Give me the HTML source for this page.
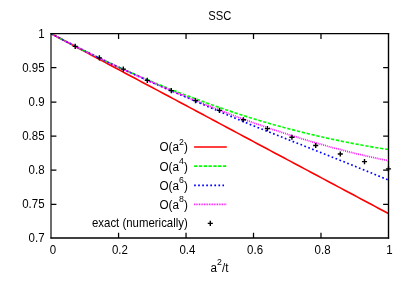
<!DOCTYPE html>
<html><head><meta charset="utf-8"><style>
html,body{margin:0;padding:0;background:#fff;}
svg{display:block;will-change:transform;transform:translateZ(0)}
text{font-family:"Liberation Sans",sans-serif;font-size:11.5px;fill:#000}
.sup{font-size:8.2px}
</style></head><body>
<svg width="409" height="286" viewBox="0 0 409 286">
<rect width="409" height="286" fill="#fff"/>
<defs><clipPath id="c"><rect x="51.1" y="33.6" width="340.34999999999997" height="204.4"/></clipPath></defs>

<path d="M51.10,33.60 L54.47,35.40 L57.85,37.20 L61.22,39.00 L64.59,40.79 L67.97,42.59 L71.34,44.39 L74.71,46.19 L78.09,47.99 L81.46,49.79 L84.84,51.59 L88.21,53.39 L91.58,55.18 L94.96,56.98 L98.33,58.78 L101.70,60.58 L105.08,62.38 L108.45,64.18 L111.82,65.98 L115.20,67.78 L118.57,69.57 L121.94,71.37 L125.32,73.17 L128.69,74.97 L132.06,76.77 L135.44,78.57 L138.81,80.37 L142.18,82.17 L145.56,83.96 L148.93,85.76 L152.30,87.56 L155.68,89.36 L159.05,91.16 L162.43,92.96 L165.80,94.76 L169.17,96.56 L172.55,98.35 L175.92,100.15 L179.29,101.95 L182.67,103.75 L186.04,105.55 L189.41,107.35 L192.79,109.15 L196.16,110.95 L199.53,112.75 L202.91,114.56 L206.28,116.36 L209.65,118.16 L213.03,119.97 L216.40,121.77 L219.77,123.58 L223.15,125.38 L226.52,127.19 L229.90,129.00 L233.27,130.80 L236.64,132.61 L240.02,134.41 L243.39,136.21 L246.76,138.02 L250.14,139.82 L253.51,141.62 L256.88,143.42 L260.26,145.22 L263.63,147.02 L267.00,148.82 L270.38,150.62 L273.75,152.42 L277.12,154.21 L280.50,156.01 L283.87,157.81 L287.25,159.61 L290.62,161.41 L293.99,163.21 L297.37,165.01 L300.74,166.81 L304.11,168.60 L307.49,170.40 L310.86,172.20 L314.23,174.00 L317.61,175.80 L320.98,177.60 L324.35,179.40 L327.73,181.20 L331.10,182.99 L334.47,184.79 L337.85,186.59 L341.22,188.39 L344.59,190.19 L347.97,191.99 L351.34,193.79 L354.71,195.58 L358.09,197.38 L361.46,199.18 L364.84,200.98 L368.21,202.78 L371.58,204.58 L374.96,206.38 L378.33,208.18 L381.70,209.97 L385.08,211.77 L388.45,213.57" fill="none" stroke="#ff0000" stroke-width="1.6" clip-path="url(#c)"/>
<path d="M51.10,33.60 L54.47,35.39 L57.85,37.17 L61.22,38.94 L64.59,40.69 L67.97,42.43 L71.34,44.16 L74.71,45.88 L78.09,47.58 L81.46,49.27 L84.84,50.94 L88.21,52.61 L91.58,54.26 L94.96,55.90 L98.33,57.52 L101.70,59.14 L105.08,60.73 L108.45,62.32 L111.82,63.90 L115.20,65.46 L118.57,67.00 L121.94,68.54 L125.32,70.06 L128.69,71.57 L132.06,73.07 L135.44,74.55 L138.81,76.02 L142.18,77.48 L145.56,78.93 L148.93,80.36 L152.30,81.78 L155.68,83.19 L159.05,84.58 L162.43,85.96 L165.80,87.33 L169.17,88.68 L172.55,90.03 L175.92,91.36 L179.29,92.67 L182.67,93.98 L186.04,95.27 L189.41,96.55 L192.79,97.82 L196.16,99.08 L199.53,100.34 L202.91,101.58 L206.28,102.81 L209.65,104.03 L213.03,105.24 L216.40,106.44 L219.77,107.62 L223.15,108.80 L226.52,109.96 L229.90,111.11 L233.27,112.24 L236.64,113.36 L240.02,114.47 L243.39,115.56 L246.76,116.63 L250.14,117.69 L253.51,118.74 L256.88,119.76 L260.26,120.77 L263.63,121.77 L267.00,122.75 L270.38,123.72 L273.75,124.68 L277.12,125.62 L280.50,126.55 L283.87,127.47 L287.25,128.38 L290.62,129.27 L293.99,130.15 L297.37,131.02 L300.74,131.87 L304.11,132.71 L307.49,133.54 L310.86,134.36 L314.23,135.16 L317.61,135.95 L320.98,136.73 L324.35,137.49 L327.73,138.24 L331.10,138.98 L334.47,139.71 L337.85,140.42 L341.22,141.12 L344.59,141.81 L347.97,142.48 L351.34,143.14 L354.71,143.79 L358.09,144.43 L361.46,145.05 L364.84,145.66 L368.21,146.26 L371.58,146.84 L374.96,147.41 L378.33,147.97 L381.70,148.52 L385.08,149.05 L388.45,149.57" fill="none" stroke="#00ff00" stroke-width="1.65" stroke-dasharray="3.3,1.7" clip-path="url(#c)"/>
<path d="M51.10,33.60 L54.47,35.39 L57.85,37.17 L61.22,38.94 L64.59,40.69 L67.97,42.44 L71.34,44.17 L74.71,45.89 L78.09,47.59 L81.46,49.29 L84.84,50.97 L88.21,52.65 L91.58,54.31 L94.96,55.96 L98.33,57.60 L101.70,59.24 L105.08,60.86 L108.45,62.47 L111.82,64.07 L115.20,65.66 L118.57,67.24 L121.94,68.82 L125.32,70.38 L128.69,71.94 L132.06,73.48 L135.44,75.02 L138.81,76.55 L142.18,78.07 L145.56,79.58 L148.93,81.09 L152.30,82.59 L155.68,84.08 L159.05,85.56 L162.43,87.04 L165.80,88.50 L169.17,89.97 L172.55,91.42 L175.92,92.87 L179.29,94.31 L182.67,95.75 L186.04,97.18 L189.41,98.61 L192.79,100.05 L196.16,101.49 L199.53,102.94 L202.91,104.38 L206.28,105.83 L209.65,107.28 L213.03,108.73 L216.40,110.18 L219.77,111.62 L223.15,113.07 L226.52,114.51 L229.90,115.94 L233.27,117.37 L236.64,118.79 L240.02,120.21 L243.39,121.62 L246.76,123.02 L250.14,124.40 L253.51,125.78 L256.88,127.15 L260.26,128.50 L263.63,129.85 L267.00,131.19 L270.38,132.54 L273.75,133.88 L277.12,135.22 L280.50,136.56 L283.87,137.90 L287.25,139.24 L290.62,140.58 L293.99,141.91 L297.37,143.25 L300.74,144.59 L304.11,145.93 L307.49,147.27 L310.86,148.61 L314.23,149.95 L317.61,151.30 L320.98,152.64 L324.35,153.99 L327.73,155.34 L331.10,156.68 L334.47,158.04 L337.85,159.39 L341.22,160.75 L344.59,162.10 L347.97,163.47 L351.34,164.83 L354.71,166.20 L358.09,167.57 L361.46,168.94 L364.84,170.32 L368.21,171.70 L371.58,173.09 L374.96,174.48 L378.33,175.87 L381.70,177.27 L385.08,178.67 L388.45,180.08" fill="none" stroke="#0000ff" stroke-width="1.65" stroke-dasharray="1.7,2.5" clip-path="url(#c)"/>
<path d="M51.10,33.60 L54.47,35.39 L57.85,37.17 L61.22,38.94 L64.59,40.69 L67.97,42.44 L71.34,44.17 L74.71,45.89 L78.09,47.59 L81.46,49.29 L84.84,50.97 L88.21,52.65 L91.58,54.31 L94.96,55.96 L98.33,57.60 L101.70,59.23 L105.08,60.84 L108.45,62.45 L111.82,64.05 L115.20,65.64 L118.57,67.21 L121.94,68.78 L125.32,70.34 L128.69,71.88 L132.06,73.42 L135.44,74.95 L138.81,76.46 L142.18,77.97 L145.56,79.47 L148.93,80.96 L152.30,82.43 L155.68,83.90 L159.05,85.36 L162.43,86.81 L165.80,88.25 L169.17,89.68 L172.55,91.11 L175.92,92.52 L179.29,93.92 L182.67,95.32 L186.04,96.70 L189.41,98.08 L192.79,99.45 L196.16,100.82 L199.53,102.18 L202.91,103.54 L206.28,104.89 L209.65,106.23 L213.03,107.56 L216.40,108.89 L219.77,110.21 L223.15,111.51 L226.52,112.81 L229.90,114.10 L233.27,115.38 L236.64,116.65 L240.02,117.90 L243.39,119.15 L246.76,120.38 L250.14,121.59 L253.51,122.80 L256.88,123.99 L260.26,125.16 L263.63,126.32 L267.00,127.48 L270.38,128.62 L273.75,129.75 L277.12,130.87 L280.50,131.97 L283.87,133.07 L287.25,134.16 L290.62,135.23 L293.99,136.29 L297.37,137.34 L300.74,138.38 L304.11,139.41 L307.49,140.43 L310.86,141.43 L314.23,142.42 L317.61,143.40 L320.98,144.36 L324.35,145.31 L327.73,146.25 L331.10,147.18 L334.47,148.09 L337.85,148.99 L341.22,149.87 L344.59,150.74 L347.97,151.60 L351.34,152.44 L354.71,153.26 L358.09,154.08 L361.46,154.87 L364.84,155.65 L368.21,156.42 L371.58,157.17 L374.96,157.90 L378.33,158.61 L381.70,159.31 L385.08,160.00 L388.45,160.66" fill="none" stroke="#ff00ff" stroke-width="1.8" stroke-dasharray="0.9,1.0" clip-path="url(#c)"/>
<path d="M72.65,46.40H77.75M75.20,43.85V48.95" stroke="#000" stroke-width="1.4" fill="none"/>
<path d="M96.85,57.90H101.95M99.40,55.35V60.45" stroke="#000" stroke-width="1.4" fill="none"/>
<path d="M120.75,69.10H125.85M123.30,66.55V71.65" stroke="#000" stroke-width="1.4" fill="none"/>
<path d="M144.75,80.40H149.85M147.30,77.85V82.95" stroke="#000" stroke-width="1.4" fill="none"/>
<path d="M168.75,90.60H173.85M171.30,88.05V93.15" stroke="#000" stroke-width="1.4" fill="none"/>
<path d="M192.95,100.60H198.05M195.50,98.05V103.15" stroke="#000" stroke-width="1.4" fill="none"/>
<path d="M216.95,110.40H222.05M219.50,107.85V112.95" stroke="#000" stroke-width="1.4" fill="none"/>
<path d="M240.85,119.80H245.95M243.40,117.25V122.35" stroke="#000" stroke-width="1.4" fill="none"/>
<path d="M264.85,128.60H269.95M267.40,126.05V131.15" stroke="#000" stroke-width="1.4" fill="none"/>
<path d="M289.35,137.20H294.45M291.90,134.65V139.75" stroke="#000" stroke-width="1.4" fill="none"/>
<path d="M313.15,145.50H318.25M315.70,142.95V148.05" stroke="#000" stroke-width="1.4" fill="none"/>
<path d="M337.75,154.00H342.85M340.30,151.45V156.55" stroke="#000" stroke-width="1.4" fill="none"/>
<path d="M361.95,161.60H367.05M364.50,159.05V164.15" stroke="#000" stroke-width="1.4" fill="none"/>
<path d="M385.95,168.90H391.05M388.50,166.35V171.45" stroke="#000" stroke-width="1.4" fill="none"/>
<path d="M51.0,33.050000000000004V238.6" stroke="#000" stroke-width="1.15" fill="none"/>
<path d="M50.45,33.55H389.15" stroke="#000" stroke-width="1.15" fill="none"/>
<path d="M50.45,237.95H389.15" stroke="#000" stroke-width="1.35" fill="none"/>
<path d="M388.5,33.050000000000004V238.6" stroke="#000" stroke-width="1.4" fill="none"/>
<path d="M118.57,238.0v-5.3M118.57,33.6v5.3M186.04,238.0v-5.3M186.04,33.6v5.3M253.51,238.0v-5.3M253.51,33.6v5.3M320.98,238.0v-5.3M320.98,33.6v5.3M51.1,204.25h5.3M388.45,204.25h-5.3M51.1,170.20h5.3M388.45,170.20h-5.3M51.1,136.15h5.3M388.45,136.15h-5.3M51.1,102.00h5.3M388.45,102.00h-5.3M51.1,67.65h5.3M388.45,67.65h-5.3" stroke="#000" stroke-width="1.25" fill="none"/>
<text transform="translate(52.90,253.50) scale(1.0,1.045)" text-anchor="middle">0</text>
<text transform="translate(119.97,253.50) scale(1.0,1.045)" text-anchor="middle">0.2</text>
<text transform="translate(187.44,253.50) scale(1.0,1.045)" text-anchor="middle">0.4</text>
<text transform="translate(255.11,253.50) scale(1.0,1.045)" text-anchor="middle">0.6</text>
<text transform="translate(322.58,253.50) scale(1.0,1.045)" text-anchor="middle">0.8</text>
<text transform="translate(389.55,253.50) scale(1.0,1.045)" text-anchor="middle">1</text>
<text transform="translate(44.60,242.20) scale(1.0,1.045)" text-anchor="end">0.7</text>
<text transform="translate(44.60,208.13) scale(1.0,1.045)" text-anchor="end">0.75</text>
<text transform="translate(44.60,174.07) scale(1.0,1.045)" text-anchor="end">0.8</text>
<text transform="translate(44.60,140.00) scale(1.0,1.045)" text-anchor="end">0.85</text>
<text transform="translate(44.60,105.93) scale(1.0,1.045)" text-anchor="end">0.9</text>
<text transform="translate(44.60,71.87) scale(1.0,1.045)" text-anchor="end">0.95</text>
<text transform="translate(44.60,37.80) scale(1.0,1.045)" text-anchor="end">1</text>
<text transform="translate(219.88,20.40) scale(0.975,1.045)" text-anchor="middle">SSC</text>
<text transform="translate(210.50,271.75) scale(1.01,1.045)">a</text>
<text transform="translate(217.06,265.25) scale(1.1,1.045)" style="font-size:8.0px">2</text>
<text transform="translate(221.95,271.75) scale(1.01,1.045)">/t</text>
<text transform="translate(159.40,151.45) scale(1.02,1.045)">O(a</text>
<text transform="translate(179.05,145.05) scale(1.1,1.045)" style="font-size:8.0px">2</text>
<text transform="translate(183.95,151.45) scale(1.02,1.045)">)</text>
<path d="M194.1,147.0H226.8" stroke="#ff0000" stroke-width="1.6" fill="none"/>
<text transform="translate(159.40,170.55) scale(1.02,1.045)">O(a</text>
<text transform="translate(179.05,164.15) scale(1.1,1.045)" style="font-size:8.0px">4</text>
<text transform="translate(183.95,170.55) scale(1.02,1.045)">)</text>
<path d="M194.1,166.1H226.8" stroke="#00ff00" stroke-width="1.65" fill="none" stroke-dasharray="3.3,1.5"/>
<text transform="translate(159.40,189.75) scale(1.02,1.045)">O(a</text>
<text transform="translate(179.05,183.35) scale(1.1,1.045)" style="font-size:8.0px">6</text>
<text transform="translate(183.95,189.75) scale(1.02,1.045)">)</text>
<path d="M194.1,185.3H224.0" stroke="#0000ff" stroke-width="1.65" fill="none" stroke-dasharray="1.7,2.35"/>
<text transform="translate(159.40,208.85) scale(1.02,1.045)">O(a</text>
<text transform="translate(179.05,202.45) scale(1.1,1.045)" style="font-size:8.0px">8</text>
<text transform="translate(183.95,208.85) scale(1.02,1.045)">)</text>
<path d="M194.1,204.4H226.2" stroke="#ff00ff" stroke-width="1.8" fill="none" stroke-dasharray="0.85,0.8"/>
<text transform="translate(187.80,226.70) scale(0.993,1.045)" text-anchor="end">exact (numerically)</text>
<path d="M207.75,223.40H212.85M210.30,220.85V225.95" stroke="#000" stroke-width="1.4" fill="none"/>
</svg></body></html>
